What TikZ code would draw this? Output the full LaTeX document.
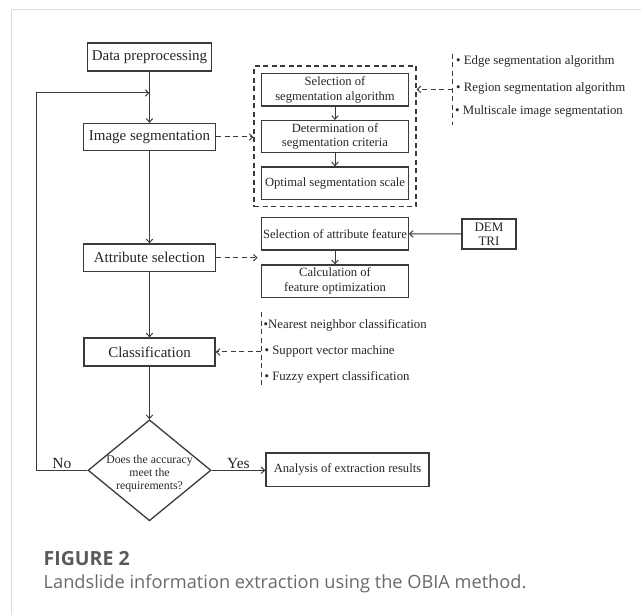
\documentclass[tikz,border=0pt]{standalone}
\usepackage{fontspec}
\setmainfont{Liberation Serif}
\newfontfamily\capfont{Open Sans}
\usepackage{xcolor}
\usepackage{tikz}
\usetikzlibrary{positioning, arrows.meta, calc, fit, shapes.geometric}
\definecolor{framegray}{HTML}{DCDCDC}
\definecolor{linegray}{HTML}{3A3A3A}
\definecolor{inkgray}{HTML}{262626}
\definecolor{capgray}{HTML}{5A5A5A}
\definecolor{captext}{HTML}{6A6A6A}

\begin{document}
\begin{tikzpicture}[x=1pt, y=-1pt,
    font=\fontsize{15}{18}\selectfont, text=inkgray,
    mainbox/.style={draw=linegray, line width=1.3pt, minimum width=132pt,
      minimum height=27.5pt, inner sep=0pt},
    subbox/.style={draw=linegray, line width=1.3pt, minimum width=146.5pt,
      minimum height=32.2pt, inner sep=0pt, align=center,
      font=\fontsize{12.6}{14.5}\selectfont},
    arr/.style={draw=linegray, line width=1pt,
      -{Straight Barb[length=3.5pt, width=6.5pt]}},
    dasharr/.style={arr, dash pattern=on 5pt off 3.5pt},
    dashline/.style={draw=linegray, line width=1pt, dash pattern=on 5pt off 3.5pt},
    bullets/.style={anchor=west, inner sep=0pt, font=\fontsize{12.8}{15}\selectfont}]

  \useasboundingbox (0,0) rectangle (641,615);
  % card frame
  \draw[framegray, line width=1.3pt] (11.5,615) -- (11.5,9.8) -- (641,9.8);

  % main column
  \node[mainbox, minimum width=124pt, minimum height=28pt] (data) at (149.5,57) {Data preprocessing};
  \node[mainbox, minimum height=27pt] (imgseg) at (149.5,137) {Image segmentation};
  \node[mainbox] (attrsel) at (149.5,257.7) {Attribute selection};
  \node[mainbox, minimum width=131pt, minimum height=28pt] (classif) at (149.5,352) {Classification};
  \node[diamond, draw=linegray, line width=1.3pt, minimum width=123pt,
        minimum height=101pt, inner sep=0pt] (check) at (149.5,470.3) {};
  \node[align=center, inner sep=0pt, font=\fontsize{11.8}{13.1}\selectfont]
        (checktext) at (149.5,473.8) {Does the accuracy\\meet the\\requirements?};
  \node[mainbox, minimum width=163pt, minimum height=33.5pt,
        font=\fontsize{12.6}{15}\selectfont] (analysis) at (347.5,469.7) {Analysis of extraction results};

  % segmentation steps
  \node[subbox] (selalg) at (335,89.8) {Selection of\\segmentation algorithm};
  \node[subbox, below=13.3pt of selalg] (detcrit) {Determination of\\segmentation criteria};
  \node[subbox, below=13pt of detcrit] (optscale) {Optimal segmentation scale};
  \node[dashline, line width=1.3pt, fit=(selalg)(optscale), inner xsep=7pt,
        inner ysep=7pt] (segframe) {};

  % attribute steps
  \node[subbox] (selattr) at (335,233.8) {Selection of attribute feature};
  \node[subbox, below=13.8pt of selattr] (calcopt) {Calculation of\\feature optimization};
  \node[draw=linegray, line width=1.3pt, minimum width=54pt, minimum height=30pt,
        inner sep=0pt, align=center, font=\fontsize{13}{14.5}\selectfont] (dem) at (489,234) {DEM\\TRI};

  % segmentation methods
  \coordinate (segtop) at (452.6,53.7);
  \coordinate (segbot) at (452.6,125.5);
  \node[bullets] (edge) at (456,61.6) {• Edge segmentation algorithm};
  \node[bullets] (region) at (456,88) {• Region segmentation algorithm};
  \node[bullets] (multi) at (455,111.8) {• Multiscale image segmentation};

  % classification methods
  \coordinate (clstop) at (261,312.2);
  \coordinate (clsbot) at (261,386.5);
  \node[bullets] (nearest) at (263.5,325.2) {•Nearest neighbor classification};
  \node[bullets] (svm) at (264.5,351.6) {• Support vector machine};
  \node[bullets] (fuzzy) at (264.5,377) {• Fuzzy expert classification};

  \coordinate (merge) at (149.5,93);

  % connectors
  \draw[arr] (data) -- (imgseg);
  \draw[arr] (imgseg) -- (attrsel);
  \draw[arr] (attrsel) -- (classif);
  \draw[arr] (classif) -- (check);
  \draw[arr] (check.east) -- node[above, inner sep=1.5pt, font=\fontsize{15.5}{18}\selectfont] {Yes}
    (check.east -| analysis.west);
  \draw[arr] (check.west) -- node[above, inner sep=1.5pt, font=\fontsize{15.5}{18}\selectfont] {No}
    ++(-51,0) |- (merge);

  \draw[arr] (selalg) -- (detcrit);
  \draw[arr] (detcrit) -- (optscale);
  \draw[arr] (selattr) -- (calcopt);
  \draw[arr] (dem) -- (selattr);

  \draw[dashline] (segtop) -- (segbot);
  \draw[dasharr] (segtop |- 0,89.4) -- (segframe.east |- 0,89.4);
  \draw[dasharr] (imgseg.east) -- (imgseg.east -| segframe.west);
  \draw[dasharr, shorten >=3.5pt] (attrsel.east) -- (attrsel.east -| selattr.west);
  \draw[dashline] (clstop) -- (clsbot);
  \draw[dasharr] (clstop |- classif.east) -- (classif.east);

  % caption
  \node[anchor=base west, inner sep=0pt, text=capgray,
        font=\capfont\bfseries\fontsize{19.5}{22}\selectfont] (figlabel) at (43.5,565.5) {FIGURE 2};
  \node[anchor=base west, inner sep=0pt, text=captext,
        font=\capfont\fontsize{18.2}{22}\selectfont] (figcaption) at (43.5,588) {Landslide information extraction using the OBIA method.};
\end{tikzpicture}
\end{document}
